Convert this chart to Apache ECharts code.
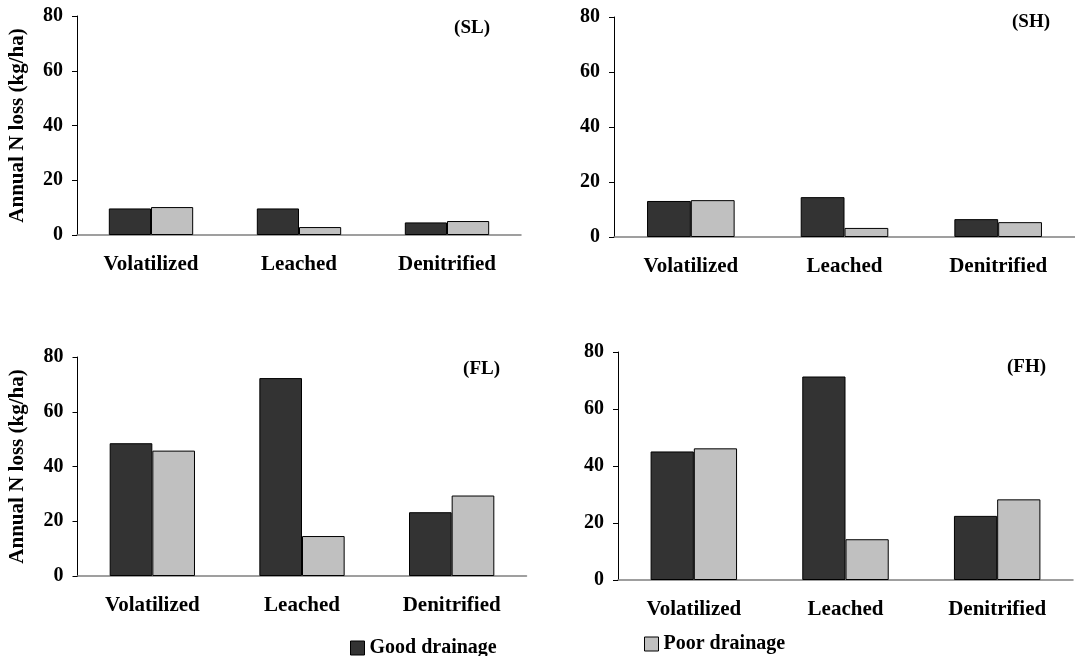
<!DOCTYPE html>
<html>
<head>
<meta charset="utf-8">
<script src="https://cdn.jsdelivr.net/npm/echarts@6/dist/echarts.min.js"></script>
<style>
html,body{margin:0;padding:0;background:#fff;}
#chart{width:1075px;height:656px;}
</style>
</head>
<body>
<div id="chart"></div>
<script>
var categories = ['Volatilized', 'Leached', 'Denitrified'];
var panelLabels = ['(SL)', '(SH)', '(FL)', '(FH)'];
var seriesNames = ['Good drainage', 'Poor drainage'];
var yMin = 0, yMax = 80, yInterval = 20;

var slGood = [9.7, 9.7, 4.6];
var slPoor = [10.2, 2.9, 5.1];
var shGood = [13.1, 14.5, 6.5];
var shPoor = [13.4, 3.3, 5.4];
var flGood = [48.5, 72.3, 23.3];
var flPoor = [45.8, 14.6, 29.4];
var fhGood = [45.1, 71.4, 22.5];
var fhPoor = [46.2, 14.3, 28.3];

var yTitle = 'Annual N loss (kg/ha)';

var FONT = '"Liberation Serif", "Times New Roman", serif';
var DARK = '#333333', LIGHT = '#c0c0c0';

var panelData = [[slGood, slPoor], [shGood, shPoor], [flGood, flPoor], [fhGood, fhPoor]];
var grids = [
  {left: 77, top: 16, width: 444, height: 219},
  {left: 614, top: 17, width: 461, height: 220},
  {left: 77.5, top: 357, width: 449, height: 219},
  {left: 618, top: 352, width: 455, height: 228}
];
var labelPos = [
  {right: 585, top: 18},
  {right: 25, top: 12},
  {right: 575, top: 359},
  {right: 29, top: 357}
];
var showYTitle = [true, false, true, false];

var xAxes = [], yAxes = [], series = [], titles = [];
grids.forEach(function (g, i) {
  xAxes.push({
    type: 'category', gridIndex: i, data: categories,
    axisLine: {lineStyle: {color: '#808080', width: 1.5}},
    axisTick: {show: false},
    axisLabel: {color: '#000', fontFamily: FONT, fontWeight: 'bold', fontSize: 21, margin: 19, interval: 0}
  });
  yAxes.push({
    type: 'value', gridIndex: i, min: yMin, max: yMax, interval: yInterval,
    name: showYTitle[i] ? yTitle : '',
    nameLocation: 'middle', nameGap: 49,
    nameTextStyle: {color: '#000', fontFamily: FONT, fontWeight: 'bold', fontSize: 21},
    axisLine: {show: true, lineStyle: {color: '#000', width: 1}},
    axisTick: {show: true, length: 5, lineStyle: {color: '#000'}},
    splitLine: {show: false},
    axisLabel: {color: '#000', fontFamily: FONT, fontWeight: 'bold', fontSize: 20, margin: 14}
  });
  panelData[i].forEach(function (vals, k) {
    series.push({
      type: 'bar', name: seriesNames[k], xAxisIndex: i, yAxisIndex: i,
      data: vals, barGap: '0%', barCategoryGap: '43%',
      itemStyle: {color: k === 0 ? DARK : LIGHT, borderColor: '#000', borderWidth: 1},
      animation: false
    });
  });
  titles.push({
    text: panelLabels[i], right: labelPos[i].right, top: labelPos[i].top, padding: 0,
    textStyle: {color: '#000', fontFamily: FONT, fontWeight: 'bold', fontSize: 19, lineHeight: 20}
  });
});

var legendCommon = {
  icon: 'rect', itemWidth: 14, itemHeight: 14, itemGap: 10, padding: 0,
  textStyle: {color: '#000', fontFamily: FONT, fontWeight: 'bold', fontSize: 20, padding: [0, 0, 0, 0]}
};

var option = {
  backgroundColor: '#fff',
  animation: false,
  title: titles,
  grid: grids,
  xAxis: xAxes,
  yAxis: yAxes,
  legend: [
    Object.assign({}, legendCommon, {data: [{name: seriesNames[0], itemStyle: {color: DARK, borderColor: '#000', borderWidth: 1}}], left: 350, top: 638}),
    Object.assign({}, legendCommon, {data: [{name: seriesNames[1], itemStyle: {color: LIGHT, borderColor: '#000', borderWidth: 1}}], left: 644, top: 634})
  ],
  series: series
};

var chart = echarts.init(document.getElementById('chart'), null, {renderer: 'canvas'});
chart.setOption(option);
</script>
</body>
</html>
